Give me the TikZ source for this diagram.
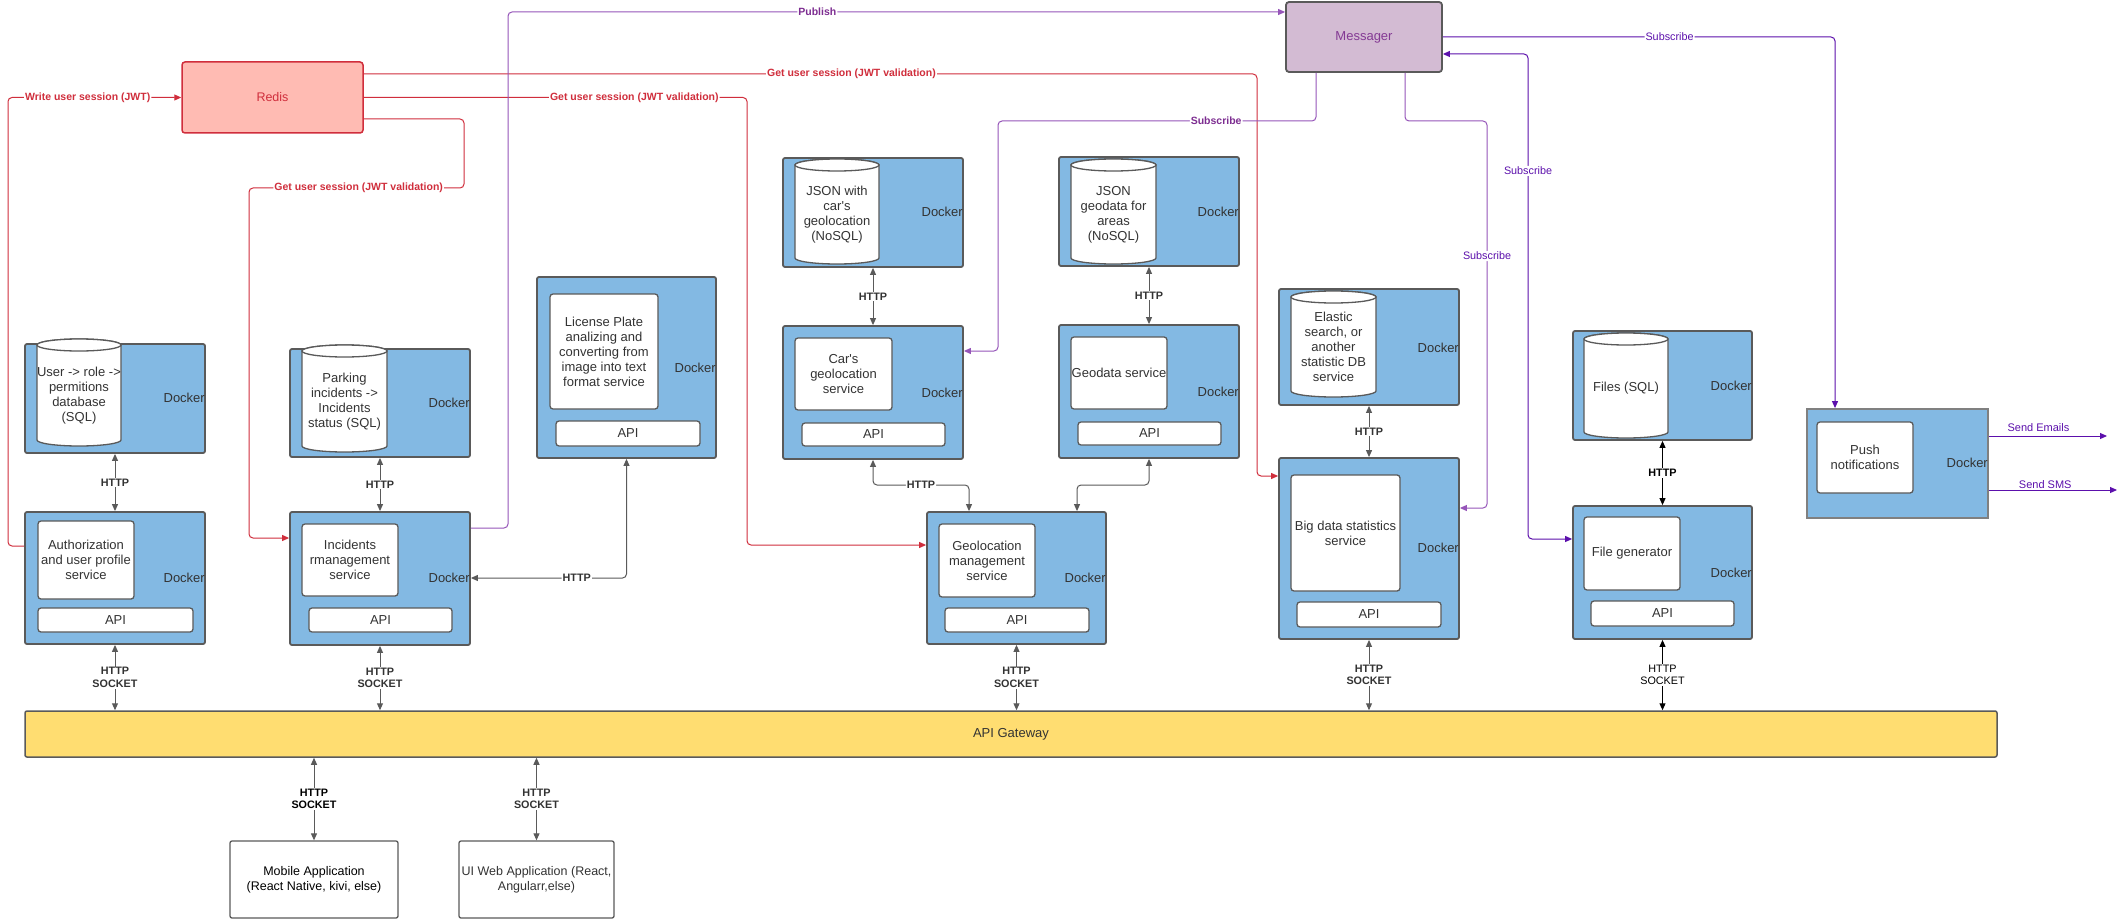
\documentclass[tikz,border=0pt]{standalone}
\usepackage{fontspec}
\setmainfont{Liberation Sans}
\usetikzlibrary{arrows.meta}
\definecolor{dblue}{RGB}{131,185,227}
\definecolor{dgray}{RGB}{90,90,90}
\definecolor{ctext}{RGB}{51,51,51}
\definecolor{redisfill}{RGB}{255,187,179}
\definecolor{redline}{RGB}{208,46,60}
\definecolor{msgfill}{RGB}{211,187,211}
\definecolor{msgtext}{RGB}{132,58,148}
\definecolor{pline}{RGB}{150,85,185}
\definecolor{plabel}{RGB}{125,45,145}
\definecolor{indigo}{RGB}{92,16,172}
\definecolor{gwfill}{RGB}{255,221,113}
\newcommand\placebox[6]{\node[#1, minimum width={(#5)-(#3)}, minimum height={(#6)-(#4)}] (#2) at ({((#3)+(#5))/2},{((#4)+(#6))/2})}
\newcommand\cylinderdb[5]{%
  \draw[cylst] (#2,{#3+6}) -- (#2,{#5-6}) arc[start angle=180, end angle=360, x radius={((#4)-(#2))/2*1pt}, y radius=6pt] -- (#4,{#3+6}) arc[start angle=0, end angle=180, x radius={((#4)-(#2))/2*1pt}, y radius=6pt] -- cycle;
  \draw[cylst] ({((#2)+(#4))/2},{#3+6}) ellipse[x radius={((#4)-(#2))/2*1pt}, y radius=6pt];
  \node[intext] (#1) at ({((#2)+(#4))/2},{((#3)+(#5))/2+3})}
\tikzset{
  intext/.style={align=center, font=\fontsize{13}{15}\selectfont, text=ctext, inner sep=0pt},
  inbox/.style={intext, draw=dgray, fill=white, line width=1.3pt, rounded corners=3pt},
  dock/.style={draw=dgray, fill=dblue, line width=1.8pt, rounded corners=2pt, inner sep=0pt},
  dlabel/.style={anchor=east, inner sep=0pt, font=\fontsize{13}{15}\selectfont, text=ctext},
  cylst/.style={draw=dgray, fill=white, line width=1.3pt},
  gcon/.style={draw=dgray, line width=1pt, {Triangle[length=7pt,width=6pt]}-{Triangle[length=7pt,width=6pt]}},
  glbl/.style={fill=white, inner sep=1pt, text=ctext, font=\fontsize{10.8}{12.5}\selectfont\bfseries, align=center},
  rcon/.style={draw=redline, line width=1pt, rounded corners=4pt, -{Triangle[length=7pt,width=6pt]}},
  rlbl/.style={fill=white, inner sep=1pt, text=redline, font=\fontsize{10.5}{12.5}\selectfont\bfseries},
  pcon/.style={draw=pline, line width=1pt, rounded corners=4pt, -{Triangle[length=7pt,width=6pt]}},
  plbl/.style={fill=white, inner sep=1pt, text=plabel, font=\fontsize{10.5}{12.5}\selectfont\bfseries},
  icon/.style={draw=indigo, line width=1pt, rounded corners=4pt, -{Triangle[length=7pt,width=6pt]}},
  ilbl/.style={fill=white, inner sep=1pt, text=indigo, font=\fontsize{10.8}{12.5}\selectfont},
}
\begin{document}
\begin{tikzpicture}[x=1pt,y=-1pt]
\useasboundingbox (0,0) rectangle (2126,920);
\fill[white] (0,0) rectangle (2126,920);

% ---- Redis and Messager
\placebox{draw=redline, fill=redisfill, line width=1.5pt, rounded corners=3pt, text=redline, font=\fontsize{12.5}{15}\selectfont}{redis}{182}{62}{363}{133} {Redis};
\placebox{draw=dgray, fill=msgfill, line width=1.8pt, rounded corners=3pt, text=msgtext, font=\fontsize{13}{15}\selectfont}{msg}{1286}{2}{1442}{72} {Messager};

% ---- Authorization
\placebox{dock}{authdb}{25}{344}{205}{453} {};
\cylinderdb{authdbt}{37}{339}{121}{446} {User -> role ->\\permitions\\database\\(SQL)};
\node[dlabel] (authdbL) at (205,398) {Docker};
\placebox{dock}{auth}{25}{512}{205}{644} {};
\placebox{inbox}{authsvc}{38}{521}{134}{599} {Authorization\\and user profile\\service};
\placebox{inbox}{authapi}{38}{608}{193}{632} {API};
\node[dlabel] (authL) at (205,578) {Docker};

% ---- Incidents
\placebox{dock}{incdb}{290}{349}{470}{457} {};
\cylinderdb{incdbt}{302}{345}{387}{452} {Parking\\incidents ->\\Incidents\\status (SQL)};
\node[dlabel] (incdbL) at (470,403) {Docker};
\placebox{dock}{inc}{290}{512}{470}{645} {};
\placebox{inbox}{incsvc}{302}{524}{398}{596} {Incidents\\rmanagement\\service};
\placebox{inbox}{incapi}{309}{608}{452}{632} {API};
\node[dlabel] (incL) at (470,578) {Docker};

% ---- License plate
\placebox{dock}{lic}{537}{277}{716}{458} {};
\placebox{inbox}{licsvc}{550}{294}{658}{409} {License Plate\\analizing and\\converting from\\image into text\\format service};
\placebox{inbox}{licapi}{556}{421}{700}{446} {API};
\node[dlabel] (licL) at (716,368) {Docker};

% ---- Car's geolocation
\placebox{dock}{cardb}{783}{158}{963}{267} {};
\cylinderdb{cardbt}{795}{159}{879}{264} {JSON with\\car\textquotesingle s\\geolocation\\(NoSQL)};
\node[dlabel] (cardbL) at (963,212) {Docker};
\placebox{dock}{car}{783}{326}{963}{459} {};
\placebox{inbox}{carsvc}{795}{338}{892}{410} {Car\textquotesingle s\\geolocation\\service};
\placebox{inbox}{carapi}{802}{423}{945}{446} {API};
\node[dlabel] (carL) at (963,393) {Docker};

% ---- Geodata
\placebox{dock}{gdb}{1059}{157}{1239}{266} {};
\cylinderdb{gdbt}{1071}{159}{1156}{264} {JSON\\geodata for\\areas\\(NoSQL)};
\node[dlabel] (gdbL) at (1239,212) {Docker};
\placebox{dock}{gsvc}{1059}{325}{1239}{458} {};
\placebox{inbox}{gsvcin}{1071}{337}{1167}{409} {Geodata service};
\placebox{inbox}{gsvcapi}{1078}{422}{1221}{445} {API};
\node[dlabel] (gsvcL) at (1239,392) {Docker};

% ---- Geolocation management
\placebox{dock}{geo}{927}{512}{1106}{644} {};
\placebox{inbox}{geosvc}{939}{524}{1035}{597} {Geolocation\\management\\service};
\placebox{inbox}{geoapi}{945}{608}{1089}{632} {API};
\node[dlabel] (geoL) at (1106,578) {Docker};

% ---- Statistics
\placebox{dock}{eldb}{1279}{289}{1459}{405} {};
\cylinderdb{eldbt}{1291}{291}{1376}{397} {Elastic\\search, or\\another\\statistic DB\\service};
\node[dlabel] (eldbL) at (1459,348) {Docker};
\placebox{dock}{big}{1279}{458}{1459}{639} {};
\placebox{inbox}{bigsvc}{1291}{475}{1400}{591} {Big data statistics\\service};
\placebox{inbox}{bigapi}{1297}{602}{1441}{627} {API};
\node[dlabel] (bigL) at (1459,548) {Docker};

% ---- Files
\placebox{dock}{files}{1573}{331}{1752}{440} {};
\cylinderdb{filest}{1584}{333}{1668}{438} {Files (SQL)};
\node[dlabel] (filesL) at (1752,386) {Docker};
\placebox{dock}{fgen}{1573}{506}{1752}{639} {};
\placebox{inbox}{fgensvc}{1584}{517}{1680}{590} {File generator};
\placebox{inbox}{fgenapi}{1591}{601}{1734}{626} {API};
\node[dlabel] (fgenL) at (1752,573) {Docker};

% ---- Push notifications
\placebox{dock, draw=gray, rounded corners=0pt}{push}{1807}{409}{1988}{518} {};
\placebox{inbox}{pushsvc}{1817}{422}{1913}{493} {Push\\notifications};
\node[dlabel] (pushL) at (1988,463) {Docker};

% ---- Gateway and clients
\placebox{draw=dgray, fill=gwfill, line width=1.5pt, rounded corners=2pt, text=ctext, font=\fontsize{13}{15}\selectfont}{gw}{25}{711}{1997}{757} {API Gateway};
\placebox{draw=dgray, fill=white, line width=1.3pt, rounded corners=2pt, align=center, text=black, font=\fontsize{12.5}{15}\selectfont}{mob}{230}{841}{398}{918} {Mobile Application\\(React Native, kivi, else)};
\placebox{draw=dgray, fill=white, line width=1.3pt, rounded corners=2pt, align=center, text=ctext, font=\fontsize{12.5}{15}\selectfont, inner sep=0pt}{web}{459}{841}{614}{918} {UI Web Application (React,\\Angularr,else)};

% ---- HTTP connectors
\draw[gcon] (authdb.south) -- node[glbl]{HTTP} (auth.north);
\draw[gcon] (incdb.south) -- node[glbl]{HTTP} (inc.north);
\draw[gcon] (cardb.south) -- node[glbl]{HTTP} (car.north);
\draw[gcon] (gdb.south) -- node[glbl]{HTTP} (gsvc.north);
\draw[gcon] (eldb.south) -- node[glbl]{HTTP} (big.north);
\draw[gcon, draw=black] (files.south) -- node[glbl, text=black]{HTTP} (fgen.north);
\draw[gcon, rounded corners=4pt] (inc.east |- 0,578) -- node[glbl, pos=0.68]{HTTP} (lic.south |- 0,578) -- (lic.south);
\draw[gcon, rounded corners=4pt] (car.south) -- (873,485) -- node[glbl]{HTTP} (969,485) -- (969,0 |- geo.north);
\draw[gcon, rounded corners=4pt] (gsvc.south) -- (1149,485) -- (1077,485) -- (1077,0 |- geo.north);

% ---- HTTP SOCKET connectors
\draw[gcon] (auth.south) -- node[glbl]{HTTP\\SOCKET} (auth.south |- gw.north);
\draw[gcon] (inc.south) -- node[glbl]{HTTP\\SOCKET} (inc.south |- gw.north);
\draw[gcon] (geo.south) -- node[glbl]{HTTP\\SOCKET} (geo.south |- gw.north);
\draw[gcon] (big.south) -- node[glbl]{HTTP\\SOCKET} (big.south |- gw.north);
\draw[gcon, draw=black] (fgen.south) -- node[glbl, text=black, font=\fontsize{10.8}{12.5}\selectfont]{HTTP\\SOCKET} (fgen.south |- gw.north);
\draw[gcon] (mob.north |- gw.south) -- node[glbl, text=black]{HTTP\\SOCKET} (mob.north);
\draw[gcon] (web.north |- gw.south) -- node[glbl]{HTTP\\SOCKET} (web.north);

% ---- Redis connectors
\draw[rcon] (auth.west |- 0,546) -- (8,546) -- (8,97.5) -- node[rlbl, pos=0.46]{Write user session (JWT)} (redis.west);
\draw[rcon] (redis.east) -- node[rlbl, pos=0.706]{Get user session (JWT validation)} (747,97.5) -- (747,545) -- (geo.west |- 0,545);
\draw[rcon] (redis.east |- 0,74) -- node[rlbl, pos=0.546]{Get user session (JWT validation)} (1257,74) -- (1257,476) -- (big.west |- 0,476);
\draw[rcon] (redis.east |- 0,119) -- (464,119) -- (464,188) -- node[rlbl, pos=0.49]{Get user session (JWT validation)} (249,188) -- (249,538) -- (inc.west |- 0,538);

% ---- Messager connectors
\draw[pcon] (inc.east |- 0,528) -- (508,528) -- (508,12) -- node[plbl, pos=0.398]{Publish} (msg.west |- 0,12);
\draw[pcon] (1316,0 |- msg.south) -- (1316,121) -- node[plbl, pos=0.314]{Subscribe} (998,121) -- (998,351) -- (car.east |- 0,351);
\draw[pcon] (1405,0 |- msg.south) -- (1405,121) -- (1487,121) -- node[ilbl, pos=0.349]{Subscribe} (1487,508) -- (big.east |- 0,508);
\draw[icon, {Triangle[length=7pt,width=6pt]}-{Triangle[length=7pt,width=6pt]}] (fgen.west |- 0,539) -- (1528,539) -- node[ilbl, pos=0.759]{Subscribe} (1528,54) -- (msg.east |- 0,54);
\draw[icon] (msg.east |- 0,37) -- node[ilbl, pos=0.578]{Subscribe} (1835,37) -- (1835,0 |- push.north);

% ---- Push outputs
\coordinate (emailend) at (2107,436);
\coordinate (smsend) at (2117,490);
\draw[icon] (push.east |- 0,436) -- node[pos=0.42, above=4pt, inner sep=0pt, text=indigo, font=\fontsize{11}{13}\selectfont]{Send Emails} (emailend);
\draw[icon] (push.east |- 0,490) -- node[pos=0.44, above=1pt, inner sep=0pt, text=indigo, font=\fontsize{11}{13}\selectfont]{Send SMS} (smsend);
\end{tikzpicture}
\end{document}
